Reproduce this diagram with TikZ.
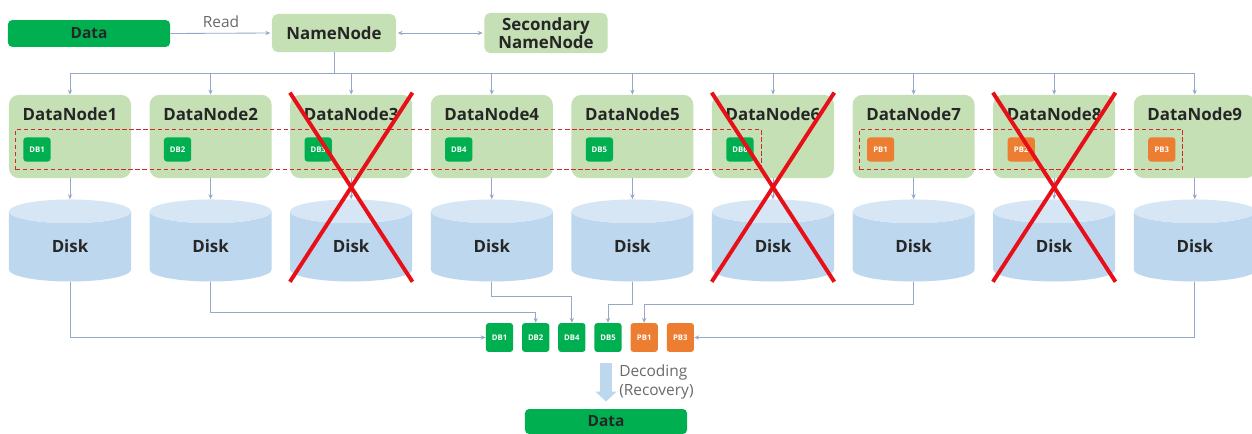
\documentclass[tikz,border=0pt]{standalone}
\usepackage{fontspec}
\setmainfont{Open Sans}
\usetikzlibrary{positioning,calc,fit,shapes.geometric,arrows.meta}
\definecolor{myDarkGreen}{RGB}{0,176,80}
\definecolor{myLightGreen}{RGB}{197,224,180}
\definecolor{myOrange}{RGB}{237,125,49}
\definecolor{myDiskBody}{RGB}{189,215,238}
\definecolor{myDiskTop}{RGB}{214,230,245}
\definecolor{myLine}{RGB}{150,168,200}
\definecolor{myCross}{RGB}{232,16,24}
\definecolor{myStripe}{RGB}{212,40,40}
\definecolor{myText}{RGB}{105,105,105}

\begin{document}
\begin{tikzpicture}[
    x=0.025cm, y=-0.025cm,
    % Styles
    dataBox/.style={
        fill=myDarkGreen,
        rounded corners=3pt,
        font=\fontsize{11}{13}\selectfont\bfseries,
        text=black!85,
        minimum width=4.05cm,
        minimum height=0.67cm,
        inner sep=0pt
    },
    nameBox/.style={
        fill=myLightGreen,
        rounded corners=4pt,
        align=center,
        font=\fontsize{12}{13}\selectfont\bfseries,
        text=black!85,
        inner sep=0pt
    },
    dnBox/.style={
        fill=myLightGreen,
        rounded corners=7pt,
        minimum width=3.05cm,
        minimum height=2.08cm,
        inner sep=0pt
    },
    dnTitle/.style={font=\fontsize{12}{14}\selectfont\bfseries, text=black!85, inner sep=0pt},
    blk/.style={
        rounded corners=2pt,
        minimum width=0.68cm,
        minimum height=0.6cm,
        inner sep=0pt,
        font=\fontsize{5.5}{6}\selectfont\bfseries,
        text=white
    },
    dbBlk/.style={blk, fill=myDarkGreen},
    pbBlk/.style={blk, fill=myOrange},
    outBlk/.style={minimum width=0.68cm, minimum height=0.72cm, font=\fontsize{5.5}{6}\selectfont\bfseries},
    disk/.style={
        cylinder, shape border rotate=90, aspect=0.65,
        cylinder uses custom fill,
        cylinder body fill=myDiskBody,
        cylinder end fill=myDiskTop,
        minimum width=3.05cm,
        minimum height=2.05cm,
        inner sep=0pt,
        font=\fontsize{12}{14}\selectfont\bfseries,
        text=black!85
    },
    stripe/.style={draw=myStripe, dash pattern=on 3pt off 2pt, line width=0.8pt, inner xsep=0.18cm, inner ysep=0.2cm},
    cross/.style={draw=myCross, line width=2.8pt},
    link/.style={draw=myLine, line width=0.6pt},
    arrow/.style={link, -{Stealth[length=3.5pt,width=3pt]}},
    dualArrow/.style={link, {Stealth[length=3.5pt,width=3pt]}-{Stealth[length=3.5pt,width=3pt]}},
    note/.style={font=\fontsize{11}{13}\selectfont, text=myText, align=left, inner sep=0pt},
    decode/.style={draw=myDiskBody, line width=0.3cm, -{Triangle[width=0.52cm,length=0.25cm]}, shorten <=0.28cm, shorten >=0.18cm}
]
    \useasboundingbox (0,0) rectangle (1252,434);

    % ---------------------------------------------------------
    % 1. TOP: DATA, NAMENODE, SECONDARY NAMENODE
    % ---------------------------------------------------------
    \node[dataBox] (dataIn) at (89,33.5) {Data};
    \node[nameBox, minimum width=3.1cm, minimum height=0.95cm] (nn) at (334,33) {NameNode};
    \node[nameBox, minimum width=3.08cm, minimum height=1.0cm] (snn) at (546,33) {Secondary\\NameNode};

    \coordinate (bus) at (0,73);

    % ---------------------------------------------------------
    % 2. MIDDLE: DATANODES WITH BLOCKS + DISKS
    % ---------------------------------------------------------
    \foreach \i/\lbl/\kind in {1/DB1/dbBlk, 2/DB2/dbBlk, 3/DB3/dbBlk, 4/DB4/dbBlk, 5/DB5/dbBlk,
                               6/DB6/dbBlk, 7/PB1/pbBlk, 8/PB2/pbBlk, 9/PB3/pbBlk} {
        \pgfmathsetmacro{\xpos}{70+140.6*(\i-1)}
        \node[dnBox] (dn\i) at (\xpos,136.5) {};
        \node[dnTitle] (t\i) at ([yshift=-0.5cm]dn\i.north) {DataNode\i};
        \node[\kind] (b\i) at ($(dn\i.center)+(-33,13)$) {\lbl};
        \node[disk, below=0.52cm of dn\i] (d\i) {Disk};
    }

    % Stripes (data blocks / parity blocks)
    \node[stripe, fit=(b1)(b6)] (stripeD) {};
    \node[stripe, fit=(b7)(b9)] (stripeP) {};

    % ---------------------------------------------------------
    % 3. BOTTOM: SURVIVING BLOCKS + DECODED DATA
    % ---------------------------------------------------------
    \node[dbBlk, outBlk] (o1) at (499.5,337.5) {DB1};
    \node[dbBlk, outBlk, right=0.21cm of o1] (o2) {DB2};
    \node[dbBlk, outBlk, right=0.21cm of o2] (o3) {DB4};
    \node[dbBlk, outBlk, right=0.21cm of o3] (o4) {DB5};
    \node[pbBlk, outBlk, right=0.21cm of o4] (o5) {PB1};
    \node[pbBlk, outBlk, right=0.21cm of o5] (o6) {PB3};

    \node[dataBox, minimum height=0.625cm] (dataOut) at (606,421.5) {Data};
    \node[note, anchor=west] (decNote) at (619,382) {Decoding\\(Recovery)};

    % ---------------------------------------------------------
    % CONNECTIONS
    % ---------------------------------------------------------
    \draw[arrow, shorten >=1pt] (dataIn.east) -- node[note, midway, above=4pt] (readLbl) {Read} (nn.west);
    \draw[dualArrow, shorten <=1pt, shorten >=1pt] (nn.east) -- (snn.west);

    % Bus to DataNodes
    \draw[link] (nn.south) -- (nn.south |- bus);
    \draw[link] (dn1.north |- bus) -- (dn9.north |- bus);
    \foreach \i in {1,...,9} {
        \draw[arrow] (dn\i.north |- bus) -- (dn\i.north);
        \draw[arrow] (dn\i.south) -- (d\i.north);
    }

    % Disks to surviving blocks
    \coordinate (lvA) at (0,296);
    \coordinate (lvB) at (0,304);
    \coordinate (lvC) at (0,312);
    \draw[arrow] (d1.south) |- (o1.west);
    \draw[arrow] (d2.south) |- (o2.north |- lvC) -- (o2.north);
    \draw[arrow] (d4.south) |- (o3.north |- lvA) -- (o3.north);
    \draw[arrow] (d5.south) |- (o4.north |- lvB) -- (o4.north);
    \draw[arrow] (d7.south) |- (o5.north |- lvB) -- (o5.north);
    \draw[arrow] (d9.south) |- (o6.east);

    % Decoding
    \draw[decode] (dataOut.north |- o4.south) -- (dataOut.north);

    % Failed nodes
    \foreach \i in {3,6,8} {
        \draw[cross] ([yshift=0.05cm]dn\i.north west) -- (dn\i.east |- d\i.south);
        \draw[cross] ([yshift=0.05cm]dn\i.north east) -- (dn\i.west |- d\i.south);
    }

\end{tikzpicture}
\end{document}
